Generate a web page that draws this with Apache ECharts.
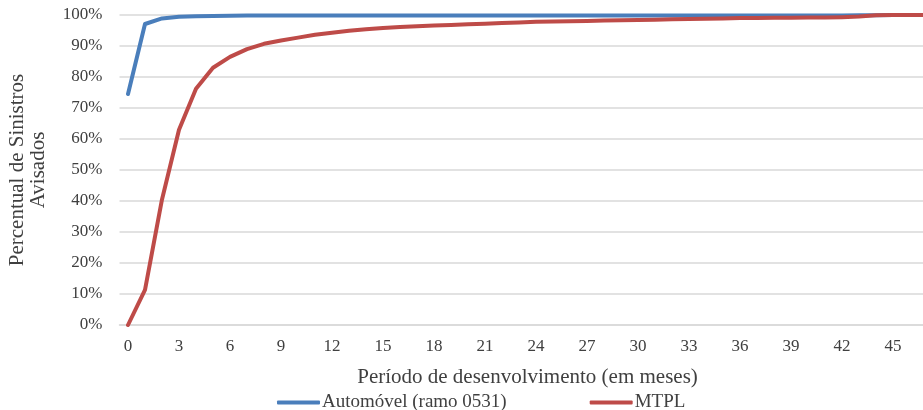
<!DOCTYPE html>
<html>
<head>
<meta charset="utf-8">
<script src="https://cdn.jsdelivr.net/npm/echarts@6/dist/echarts.min.js"></script>
<style>
  html, body { margin: 0; padding: 0; background: #fff; }
  #chart { width: 923px; height: 410px; }
</style>
</head>
<body>
<div id="chart"></div>
<script>
// Development period in months
const months = Array.from({ length: 48 }, (_, i) => String(i));

// Cumulative share of reported claims (%)
const automovel = [
  74.5, 97.1, 98.9, 99.4, 99.6, 99.7, 99.75, 99.8, 99.8, 99.8,
  99.8, 99.8, 99.8, 99.8, 99.8, 99.8, 99.8, 99.8, 99.8, 99.8,
  99.8, 99.8, 99.8, 99.8, 99.8, 99.8, 99.8, 99.8, 99.8, 99.8,
  99.8, 99.8, 99.8, 99.8, 99.8, 99.8, 99.8, 99.8, 99.8, 99.8,
  99.8, 99.8, 99.8, 99.9, 99.9, 100, 100, 100
];
const mtpl = [
  0, 11.3, 40.5, 63.0, 76.2, 83.0, 86.5, 89.0, 90.7, 91.8,
  92.7, 93.6, 94.3, 94.9, 95.4, 95.8, 96.1, 96.4, 96.6, 96.8,
  97.0, 97.2, 97.4, 97.6, 97.8, 97.9, 98.0, 98.1, 98.2, 98.3,
  98.4, 98.5, 98.6, 98.7, 98.8, 98.9, 99.0, 99.0, 99.1, 99.1,
  99.2, 99.2, 99.3, 99.5, 99.9, 100, 100, 100
];

const seriesNames = ['Automóvel (ramo 0531)', 'MTPL'];
const colors = ['#4a7ebb', '#be4b48'];

const font = 'Liberation Serif';
const textColor = '#404040';

const chart = echarts.init(document.getElementById('chart'), null, { renderer: 'canvas' });
chart.setOption({
  animation: false,
  textStyle: { fontFamily: font },
  color: colors,
  grid: {
    left: 119.5, top: 15, width: 816, bottom: 85,
    containLabel: false, outerBoundsMode: 'none'
  },
  legend: {
    left: 272,
    top: 388,
    itemGap: 83,
    itemWidth: 43,
    itemHeight: 4,
    icon: 'roundRect',
    textStyle: { fontFamily: font, fontSize: 19, color: textColor, padding: [0, 0, 0, -3] },
    data: seriesNames
  },
  xAxis: {
    type: 'category',
    data: months,
    boundaryGap: true,
    name: 'Período de desenvolvimento (em meses)',
    nameLocation: 'middle',
    nameGap: 42,
    nameTextStyle: { fontFamily: font, fontSize: 21, color: textColor },
    axisLine: { lineStyle: { color: '#d9d9d9', width: 1.5 } },
    axisTick: { show: false },
    axisLabel: { interval: 2, margin: 13, fontFamily: font, fontSize: 17, color: textColor }
  },
  yAxis: {
    type: 'value',
    min: 0,
    max: 100,
    interval: 10,
    name: 'Percentual de Sinistros\nAvisados',
    nameLocation: 'middle',
    nameGap: 71,
    nameTextStyle: { fontFamily: font, fontSize: 21, color: textColor, lineHeight: 21 },
    axisLine: { show: false },
    axisTick: { show: false },
    splitLine: { lineStyle: { color: '#d9d9d9', width: 1.5 } },
    axisLabel: { margin: 17, fontFamily: font, fontSize: 17, color: textColor, formatter: '{value}%' }
  },
  series: [
    {
      name: seriesNames[0], type: 'line', data: automovel, symbol: 'none',
      lineStyle: { width: 4, cap: 'round', join: 'round' }
    },
    {
      name: seriesNames[1], type: 'line', data: mtpl, symbol: 'none',
      lineStyle: { width: 4, cap: 'round', join: 'round' }
    }
  ]
});
</script>
</body>
</html>
